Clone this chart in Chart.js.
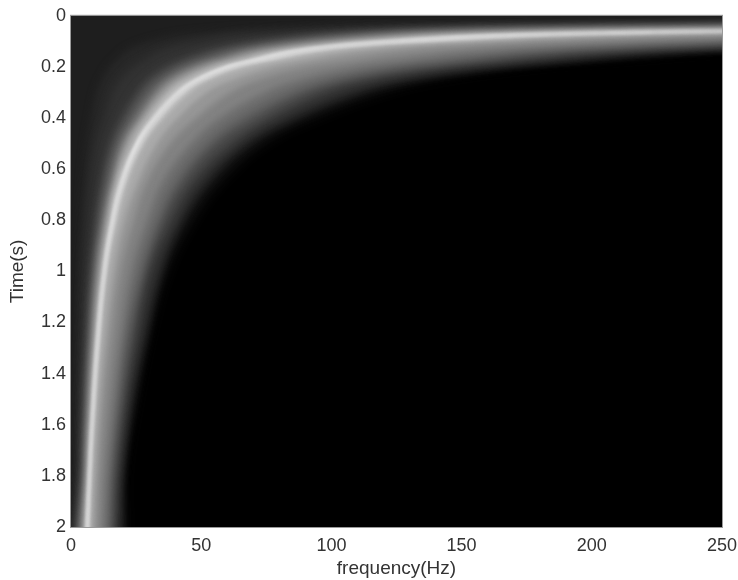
<!DOCTYPE html>
<html>
<head>
<meta charset="utf-8">
<style>
  html, body { margin: 0; padding: 0; background: #fff; }
  canvas { display: block; filter: blur(0.5px); }
</style>
<script src="https://cdn.jsdelivr.net/npm/chart.js@4/dist/chart.umd.min.js"></script>
</head>
<body>
<canvas id="chart" width="738" height="580"></canvas>
<script>
// sampled times (s), each contour band below gives its edge in Hz at these times
const times = [-0.05, 0.03, 0.05, 0.06, 0.07, 0.08, 0.10, 0.12, 0.14, 0.17, 0.20, 0.25, 0.30, 0.40, 0.50, 0.65, 0.80, 1.0, 1.25, 1.5, 1.75, 2.2];
const xTicks = [0, 50, 100, 150, 200, 250];
const yTicks = [0, 0.2, 0.4, 0.6, 0.8, 1, 1.2, 1.4, 1.6, 1.8, 2];

const grays = [12, 30, 40, 50, 70, 90, 110, 130, 150, 170, 190, 205, 215, 225];
const blurs = [4, 4, 4, 4, 4, 4, 4, 3.5, 3, 2.5, 2, 1.8, 1.5, 1.2];

const left12 = [-10, -10, -10, -10, -10, -10, -10, -10, -10, -10, -10, -10, -10, -10, -10, -10, -10, -10, -10, -10, -10, -10];
const left30 = [-10, -10, -10, -10, -10, -10, -10, -10, -10, -10, -10, -10, -10, -10, -10, -10, -10, -10, -10, -10, -10, -10];
const left40 = [3000, 130, 85, 60, 48, 40, 31, 25, 21, 18, 15, 12, 10, 8, 6.4, 4.9, 4, 3.2, 2.6, 2.2, 1.9, 1.4];
const left50 = [3000, 200, 115, 85, 70, 60, 50, 40, 34, 29, 24, 19, 16, 13, 10, 7.8, 6.4, 5.1, 4.2, 3.5, 3, 2.2];
const left70 = [3000, 300, 160, 120, 100, 88, 72, 60, 51, 43, 36, 29, 25, 19, 15, 12, 9.6, 7.7, 6.2, 5.2, 4.4, 3.3];
const left90 = [3000, 400, 190, 135, 115, 100, 82, 68, 58, 49, 41, 33, 28, 22, 17, 13, 11, 8.7, 7.1, 5.9, 5, 3.7];
const left110 = [3000, 450, 220, 150, 125, 110, 90, 75, 64, 54, 45, 36, 31, 24, 19, 15, 12, 9.6, 7.8, 6.5, 5.6, 4.1];
const left130 = [3000, 500, 240, 165, 135, 118, 96, 80, 68, 58, 48, 38, 33, 26, 20, 16, 13, 10, 8.3, 7, 5.9, 4.4];
const left150 = [3000, 540, 265, 180, 145, 126, 102, 84, 71, 60, 50, 40, 34, 27, 21, 16.5, 13.4, 10.8, 8.7, 7.3, 6.2, 4.6];
const left170 = [3000, 580, 285, 195, 155, 133, 107, 88, 75, 63, 53, 42, 36, 28, 22, 17, 14, 11.3, 9.2, 7.7, 6.5, 4.8];
const left190 = [3000, 620, 310, 210, 165, 140, 112, 93, 79, 67, 56, 45, 38, 30, 24, 18, 15, 12, 9.7, 8.1, 6.9, 5.2];
const left205 = [3000, 650, 340, 225, 172, 146, 116, 95, 81, 69, 58, 47, 40, 31, 24.5, 18.7, 15.2, 12.1, 9.8, 8.1, 6.8, 5];
const left215 = [3000, 680, 370, 235, 178, 150, 119, 97, 83, 70, 59, 47.5, 40.5, 31.5, 25, 19, 15.5, 12.4, 10, 8.3, 7, 5.2];
const left225 = [3000, 693, 396, 247, 188, 156, 123, 99, 84, 71, 59, 48, 41, 32, 25, 19.4, 15.8, 12.7, 10.3, 8.6, 7.3, 5.4];

const right12 = [3000, 2100, 1200, 750, 570, 474, 372, 300, 255, 216, 180, 144, 123, 96, 76, 59, 48, 38, 31, 26, 22, 17.5];
const right30 = [3000, 1925, 1100, 688, 522, 434, 341, 275, 234, 198, 165, 132, 113, 88, 70, 54, 44, 35, 29, 24, 20, 15.5];
const right40 = [3000, 1855, 1060, 662, 503, 418, 328, 265, 225, 191, 159, 127, 109, 85, 67, 52, 42, 34, 28, 23, 19.5, 15];
const right50 = [3000, 1785, 1020, 638, 484, 403, 316, 255, 217, 184, 153, 122, 105, 82, 65, 50, 41, 33, 27, 22, 19, 14.5];
const right70 = [3000, 1680, 960, 600, 456, 379, 297, 240, 204, 173, 144, 115, 98, 77, 62, 47, 38.5, 30, 25, 21, 18, 13.5];
const right90 = [3000, 1540, 880, 550, 418, 348, 273, 220, 187, 159, 132, 105, 90, 71, 56, 43, 35, 28, 23, 19, 16, 12.5];
const right110 = [3000, 1435, 820, 513, 390, 324, 254, 205, 174, 148, 123, 99, 84, 65, 52, 40, 33, 26.5, 21, 18, 15.5, 11.5];
const right130 = [3000, 1260, 720, 450, 342, 285, 223, 180, 153, 129, 108, 87, 74, 57, 46, 35, 29, 23, 19, 16, 13.5, 10];
const right150 = [3000, 1050, 600, 375, 285, 236, 185, 150, 128, 108, 90, 72, 61, 48, 38, 29, 24, 19, 15.6, 13, 11, 8.4];
const right170 = [3000, 896, 512, 320, 243, 202, 159, 128, 109, 92, 77, 62, 52, 41, 33, 25.6, 20.5, 16.4, 13.3, 11, 9.5, 7];
const right190 = [3000, 790, 460, 300, 225, 185, 145, 115, 98, 82, 68, 54, 46, 36, 28.5, 22, 18, 14, 11.4, 9.6, 8.1, 6.2];
const right205 = [3000, 750, 430, 285, 215, 178, 140, 110, 94, 79, 65, 52, 44, 34.5, 27.5, 21, 17.2, 13.7, 11.2, 9.4, 7.9, 6];
const right215 = [3000, 728, 416, 270, 205, 170, 133, 106, 90, 76, 63, 50.5, 43, 33.5, 26.5, 20.4, 16.6, 13.3, 10.9, 9.1, 7.8, 5.9];
const right225 = [3000, 707, 404, 253, 192, 160, 125, 101, 86, 73, 61, 49, 41.5, 32.3, 26, 19.8, 16.2, 12.9, 10.5, 8.8, 7.5, 5.6];

const lefts = [left12, left30, left40, left50, left70, left90, left110, left130, left150, left170, left190, left205, left215, left225];
const rights = [right12, right30, right40, right50, right70, right90, right110, right130, right150, right170, right190, right205, right215, right225];

const textColor = "#333333";
const tickFont = { family: "'Liberation Sans', Arial, sans-serif", size: 18 };
const titleFont = { family: "'Liberation Sans', Arial, sans-serif", size: 19 };

// closed outline of one gray level: down the left edge, back up the right edge
function outline(left, right) {
    const down = times.map((t, i) => ({ x: left[i], y: t }));
    const up = times.map((t, i) => ({ x: right[i], y: t })).reverse();
    return down.concat(up);
}

const datasets = grays.map((g, i) => ({
    data: outline(lefts[i], rights[i]),
    showLine: true,
    borderWidth: 0,
    pointRadius: 0,
    tension: 0.4,
    backgroundColor: `rgb(${g}, ${g}, ${g})`,
    fill: "shape",
    order: grays.length - i,
}));

const plotBackground = {
    id: "plotBackground",
    beforeDraw(chart) {
        const { ctx, chartArea: a } = chart;
        ctx.save();
        ctx.fillStyle = "#000";
        ctx.fillRect(a.left, a.top, a.width, a.height);
        ctx.restore();
    },
    // the source picture is a soft scan, so the bands get blurred together
    // (filler runs before this plugin, so the filter is set for the next band)
    beforeDatasetsDraw(chart) {
        chart.ctx.filter = `blur(${blurs[0]}px)`;
    },
    afterDatasetDraw(chart, args) {
        const next = blurs[args.index + 1];
        chart.ctx.filter = next ? `blur(${next}px)` : "none";
    },
    afterDatasetsDraw(chart) {
        chart.ctx.filter = "none";
    },
    afterDraw(chart) {
        const { ctx, chartArea: a } = chart;
        ctx.save();
        ctx.strokeStyle = "#9a9a9a";
        ctx.lineWidth = 1;
        ctx.strokeRect(a.left - 0.5, a.top - 0.5, a.width + 1, a.height + 1);
        ctx.restore();
    },
};

new Chart(document.getElementById("chart"), {
    type: "scatter",
    data: { datasets },
    plugins: [plotBackground],
    options: {
        responsive: false,
        animation: false,
        layout: { autoPadding: false, padding: { top: 14, right: 16 } },
        plugins: {
            legend: { display: false },
            tooltip: { enabled: false },
            filler: { drawTime: "beforeDatasetDraw" },
        },
        scales: {
            x: {
                type: "linear",
                min: 0,
                max: 250,
                afterFit: (s) => { s.height = 53; s.paddingLeft = 0; s.paddingRight = 0; },
                afterBuildTicks: (s) => { s.ticks = xTicks.map((value) => ({ value })); },
                grid: { display: false, drawTicks: false },
                border: { display: false },
                ticks: { color: textColor, font: tickFont, padding: 8, maxRotation: 0, autoSkip: false },
                title: { display: true, text: "frequency(Hz)", color: textColor, font: titleFont, padding: { top: 1, bottom: 0 } },
            },
            y: {
                type: "linear",
                reverse: true,
                min: 0,
                max: 2,
                afterFit: (s) => { s.width = 71; },
                afterBuildTicks: (s) => { s.ticks = yTicks.map((value) => ({ value })); },
                grid: { display: false, drawTicks: false },
                border: { display: false },
                ticks: { color: textColor, font: tickFont, padding: 5, autoSkip: false, callback: (v) => String(v) },
                title: { display: true, text: "Time(s)", color: textColor, font: titleFont, padding: { top: 6, bottom: 0 } },
            },
        },
    },
});
</script>
</body>
</html>
